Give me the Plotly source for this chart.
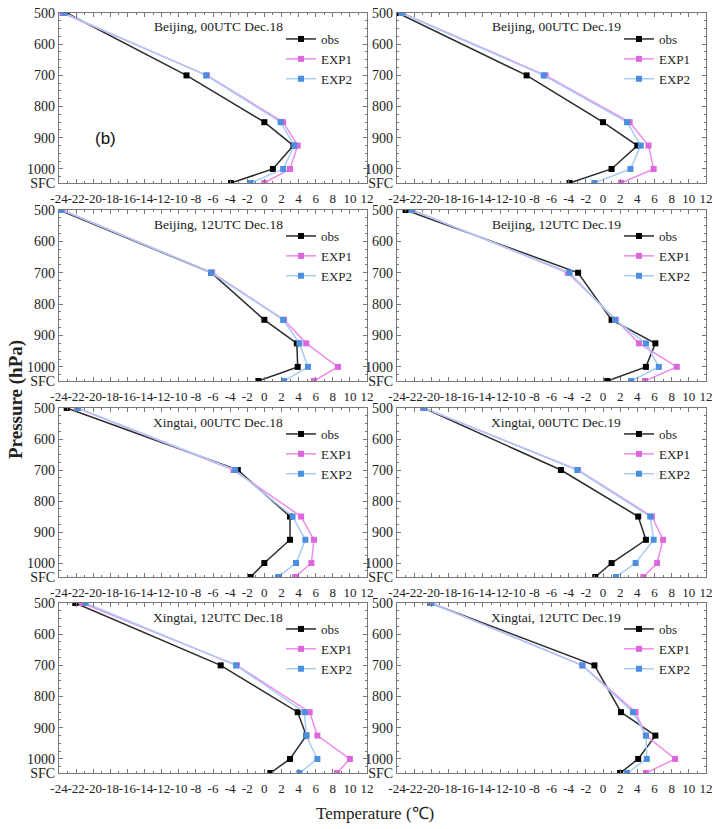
import plotly.graph_objects as go

# Pressure levels (hPa); the surface (SFC) level is drawn just below 1000 hPa
levels = [500, 700, 850, 925, 1000, 1045]
ytick_vals = [500, 600, 700, 800, 900, 1000, 1045]
ytick_text = ["500", "600", "700", "800", "900", "1000", "SFC"]
xtick_vals = list(range(-24, 13, 2))
xtick_text = [str(v) for v in xtick_vals]

titles = [
    "Beijing, 00UTC Dec.18", "Beijing, 00UTC Dec.19",
    "Beijing, 12UTC Dec.18", "Beijing, 12UTC Dec.19",
    "Xingtai, 00UTC Dec.18", "Xingtai, 00UTC Dec.19",
    "Xingtai, 12UTC Dec.18", "Xingtai, 12UTC Dec.19",
]

# Temperatures (°C) at levels 500, 700, 850, 925, 1000, SFC
obs = [
    [-23.1, -9.1, 0.0, 3.4, 1.0, -3.9],
    [-23.9, -8.9, 0.0, 4.0, 1.0, -3.9],
    [-24.0, -6.2, 0.0, 3.8, 3.9, -0.7],
    [-23.0, -2.9, 1.0, 6.1, 5.0, 0.5],
    [-23.1, -3.1, 3.0, 3.0, 0.0, -1.6],
    [-20.9, -4.9, 4.1, 5.0, 1.0, -0.9],
    [-22.1, -5.1, 3.9, 4.9, 3.0, 0.7],
    [-20.1, -1.0, 2.1, 6.1, 4.1, 2.0],
]
exp1 = [
    [-23.6, -6.7, 2.2, 3.9, 3.0, 0.0],
    [-23.4, -6.7, 3.1, 5.3, 5.9, 2.1],
    [-23.6, -6.1, 2.3, 4.9, 8.6, 5.8],
    [-22.2, -4.1, 1.5, 4.2, 8.6, 4.9],
    [-21.9, -3.6, 4.3, 5.8, 5.5, 3.6],
    [-20.9, -2.9, 5.7, 7.0, 6.3, 4.7],
    [-21.3, -3.2, 5.3, 6.2, 10.0, 8.5],
    [-20.0, -2.4, 3.8, 5.0, 8.4, 5.0],
]
exp2 = [
    [-23.4, -6.8, 1.9, 3.5, 2.2, -1.6],
    [-23.5, -6.9, 2.8, 4.4, 3.2, -1.0],
    [-23.7, -6.2, 2.2, 4.1, 5.1, 2.3],
    [-22.3, -3.9, 1.4, 5.0, 6.5, 3.3],
    [-21.8, -3.4, 3.3, 4.8, 3.7, 1.6],
    [-20.8, -3.0, 5.5, 5.9, 3.8, 1.5],
    [-20.9, -3.3, 4.7, 4.9, 6.2, 4.1],
    [-20.0, -2.4, 3.5, 5.0, 5.1, 2.8],
]

W, H = 714, 829
col_px = [(59, 367), (397, 706)]
row_px = [(13, 183), (210, 381), (408, 577), (603, 773)]

series_style = [
    ("obs", obs, "#2b2b2b", "#000000"),
    ("EXP1", exp1, "#ee8cee", "#dd66dd"),
    ("EXP2", exp2, "#a8ccf2", "#4a8fe0"),
]

SERIF = "Liberation Serif, Times New Roman, serif"
fig = go.Figure()
layout = dict(
    width=W, height=H,
    margin=dict(l=0, r=0, t=0, b=0, autoexpand=False),
    paper_bgcolor="white", plot_bgcolor="white",
    font=dict(family=SERIF, size=14, color="#222"),
    annotations=[],
)

for i in range(8):
    r, c = divmod(i, 2)
    x0, x1 = col_px[c]
    yt, yb = row_px[r]
    n = "" if i == 0 else str(i + 1)
    xa, ya = "x" + n, "y" + n
    leg = "legend" + n
    for name, data, lcol, mcol in series_style:
        fig.add_trace(go.Scatter(
            x=data[i], y=levels, mode="lines+markers", name=name,
            line=dict(color=lcol, width=1.5),
            marker=dict(symbol="square", size=6, color=mcol),
            xaxis=xa, yaxis=ya, legend=leg, showlegend=True,
        ))
    axcommon = dict(
        showline=True, linecolor="#777", linewidth=1.2, mirror="allticks",
        ticks="inside", tickcolor="#777", ticklen=4, showgrid=False,
        zeroline=False, automargin=False,
    )
    layout["xaxis" + n] = dict(
        axcommon, domain=[x0 / W, x1 / W], anchor=ya, range=[-24, 12],
        tickmode="array", tickvals=xtick_vals, ticktext=xtick_text, tickangle=0,
        tickfont=dict(family=SERIF, size=13, color="#222"), ticklabelstandoff=3,
        minor=dict(ticks="inside", ticklen=2, dtick=1, tick0=-24, tickcolor="#777"),
    )
    layout["yaxis" + n] = dict(
        axcommon, domain=[1 - yb / H, 1 - yt / H], anchor=xa, range=[1045, 500],
        tickmode="array", tickvals=ytick_vals, ticktext=ytick_text,
        tickfont=dict(family=SERIF, size=14, color="#222"),
        minor=dict(ticks="inside", ticklen=2, dtick=25, tick0=500, tickcolor="#777"),
    )
    layout[leg] = dict(
        x=(x0 + 222) / W, y=1 - (yt + 11) / H, xanchor="left", yanchor="top",
        bgcolor="rgba(0,0,0,0)", font=dict(family=SERIF, size=13, color="#222"),
        tracegroupgap=0, itemwidth=30,
    )
    layout["annotations"].append(dict(
        text=titles[i], x=(x0 + 159) / W, y=1 - (yt + 14) / H, xref="paper", yref="paper",
        xanchor="center", yanchor="middle", showarrow=False,
        font=dict(family=SERIF, size=13.5, color="#222"),
    ))

layout["annotations"].append(dict(
    text="<b>Pressure (hPa)</b>", x=16 / W, y=1 - 400 / H, xref="paper", yref="paper",
    xanchor="center", yanchor="middle",
    textangle=-90, showarrow=False, font=dict(family=SERIF, size=19, color="#222"),
))
layout["annotations"].append(dict(
    text="Temperature (℃)", x=375 / W, y=1 - 813 / H, xref="paper", yref="paper",
    xanchor="center", yanchor="middle",
    showarrow=False, font=dict(family=SERIF, size=17, color="#222"),
))
layout["annotations"].append(dict(
    text="(b)", x=105 / W, y=1 - 138 / H, xref="paper", yref="paper",
    xanchor="center", yanchor="middle",
    showarrow=False, font=dict(family="Liberation Sans, Arial, sans-serif", size=17, color="#111"),
))

fig.update_layout(**layout)
fig.write_html("out.html", config={"displayModeBar": False},
               post_script="document.body.style.margin='0px';")
